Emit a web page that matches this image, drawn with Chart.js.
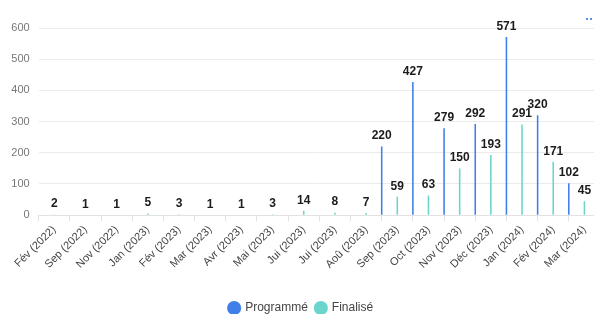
<!DOCTYPE html>
<html lang="fr">
<head>
    <meta charset="UTF-8">
    <title>Programmé / Finalisé</title>
    <script src="https://cdn.jsdelivr.net/npm/chart.js"></script>
    <style>
        html, body { margin: 0; padding: 0; background: #fff; overflow: hidden; }
        .wrap { position: relative; width: 606px; height: 314px; }
        .menu { position: absolute; left: 586px; top: 6px; }
        .menu span { display: inline-block; width: 2px; height: 2px; background: #5b8ef0; margin-right: 2px; }
    </style>
</head>
<body>
    <div class="wrap">
        <canvas id="chart"></canvas>
    </div>
    <div class="menu"><span></span><span></span></div>

    <script>
        // chart values
        const categories = [
            'Fév (2022)', 'Sep (2022)', 'Nov (2022)', 'Jan (2023)', 'Fév (2023)', 'Mar (2023)',
            'Avr (2023)', 'Mai (2023)', 'Jui (2023)', 'Jui (2023)', 'Aoû (2023)', 'Sep (2023)',
            'Oct (2023)', 'Nov (2023)', 'Déc (2023)', 'Jan (2024)', 'Fév (2024)', 'Mar (2024)'
        ];
        const programme = [null, null, null, null, null, null, null, null, null, null, null, 220, 427, 279, 292, 571, 320, 102];
        const finalise = [2, 1, 1, 5, 3, 1, 1, 3, 14, 8, 7, 59, 63, 150, 193, 291, 171, 45];
        const yTicks = [0, 100, 200, 300, 400, 500, 600];

        const FONT = '"Liberation Sans", Arial, sans-serif';

        // value labels above each bar
        const valueLabels = {
            id: 'valueLabels',
            afterDatasetsDraw(chart) {
                const ctx = chart.ctx;
                ctx.save();
                ctx.font = 'bold 12px ' + FONT;
                ctx.fillStyle = '#1b1b1b';
                ctx.textAlign = 'center';
                ctx.textBaseline = 'middle';
                chart.data.datasets.forEach((ds, i) => {
                    const meta = chart.getDatasetMeta(i);
                    meta.data.forEach((bar, j) => {
                        const v = ds.data[j];
                        if (v == null) return;
                        ctx.fillText(v, bar.x, bar.y - 10.5);
                    });
                });
                ctx.restore();
            }
        };

        new Chart(document.getElementById('chart'), {
            type: 'bar',
            data: {
                labels: categories,
                datasets: [
                    { label: 'Programmé', data: programme, backgroundColor: '#3f7fe8' },
                    { label: 'Finalisé', data: finalise, backgroundColor: '#6ad6cb' },
                    // empty third group so the blue bars sit on the category edge
                    { label: 'spacer', data: [], backgroundColor: 'transparent' }
                ]
            },
            options: {
                responsive: true,
                maintainAspectRatio: false,
                animation: false,
                categoryPercentage: 1.5,
                barPercentage: 0.1,
                layout: { padding: { left: 2.3, top: 28, right: 6, bottom: -10 } },
                plugins: {
                    tooltip: { enabled: false },
                    legend: {
                        position: 'bottom',
                        labels: {
                            filter: item => item.datasetIndex < 2,
                            usePointStyle: true,
                            pointStyle: 'circle',
                            boxWidth: 10,
                            boxHeight: 10,
                            padding: 8,
                            color: '#444',
                            font: { family: FONT, size: 12 }
                        }
                    }
                },
                scales: {
                    x: {
                        afterFit: axis => { axis.paddingLeft = 0; axis.paddingRight = 0; axis.height += 21; },
                        grid: { drawOnChartArea: false, color: '#e2e2e2', tickLength: 6 },
                        border: { color: '#e2e2e2' },
                        ticks: {
                            minRotation: 45,
                            maxRotation: 45,
                            autoSkip: false,
                            padding: 2,
                            color: '#444',
                            font: { family: FONT, size: 11 }
                        }
                    },
                    y: {
                        min: 0,
                        max: 600,
                        afterBuildTicks: axis => { axis.ticks = yTicks.map(v => ({ value: v })); },
                        grid: { color: '#ebebeb', drawTicks: false },
                        border: { display: false },
                        ticks: {
                            padding: 9,
                            color: '#777',
                            font: { family: FONT, size: 11 }
                        }
                    }
                }
            },
            plugins: [valueLabels]
        });
    </script>
</body>
</html>
